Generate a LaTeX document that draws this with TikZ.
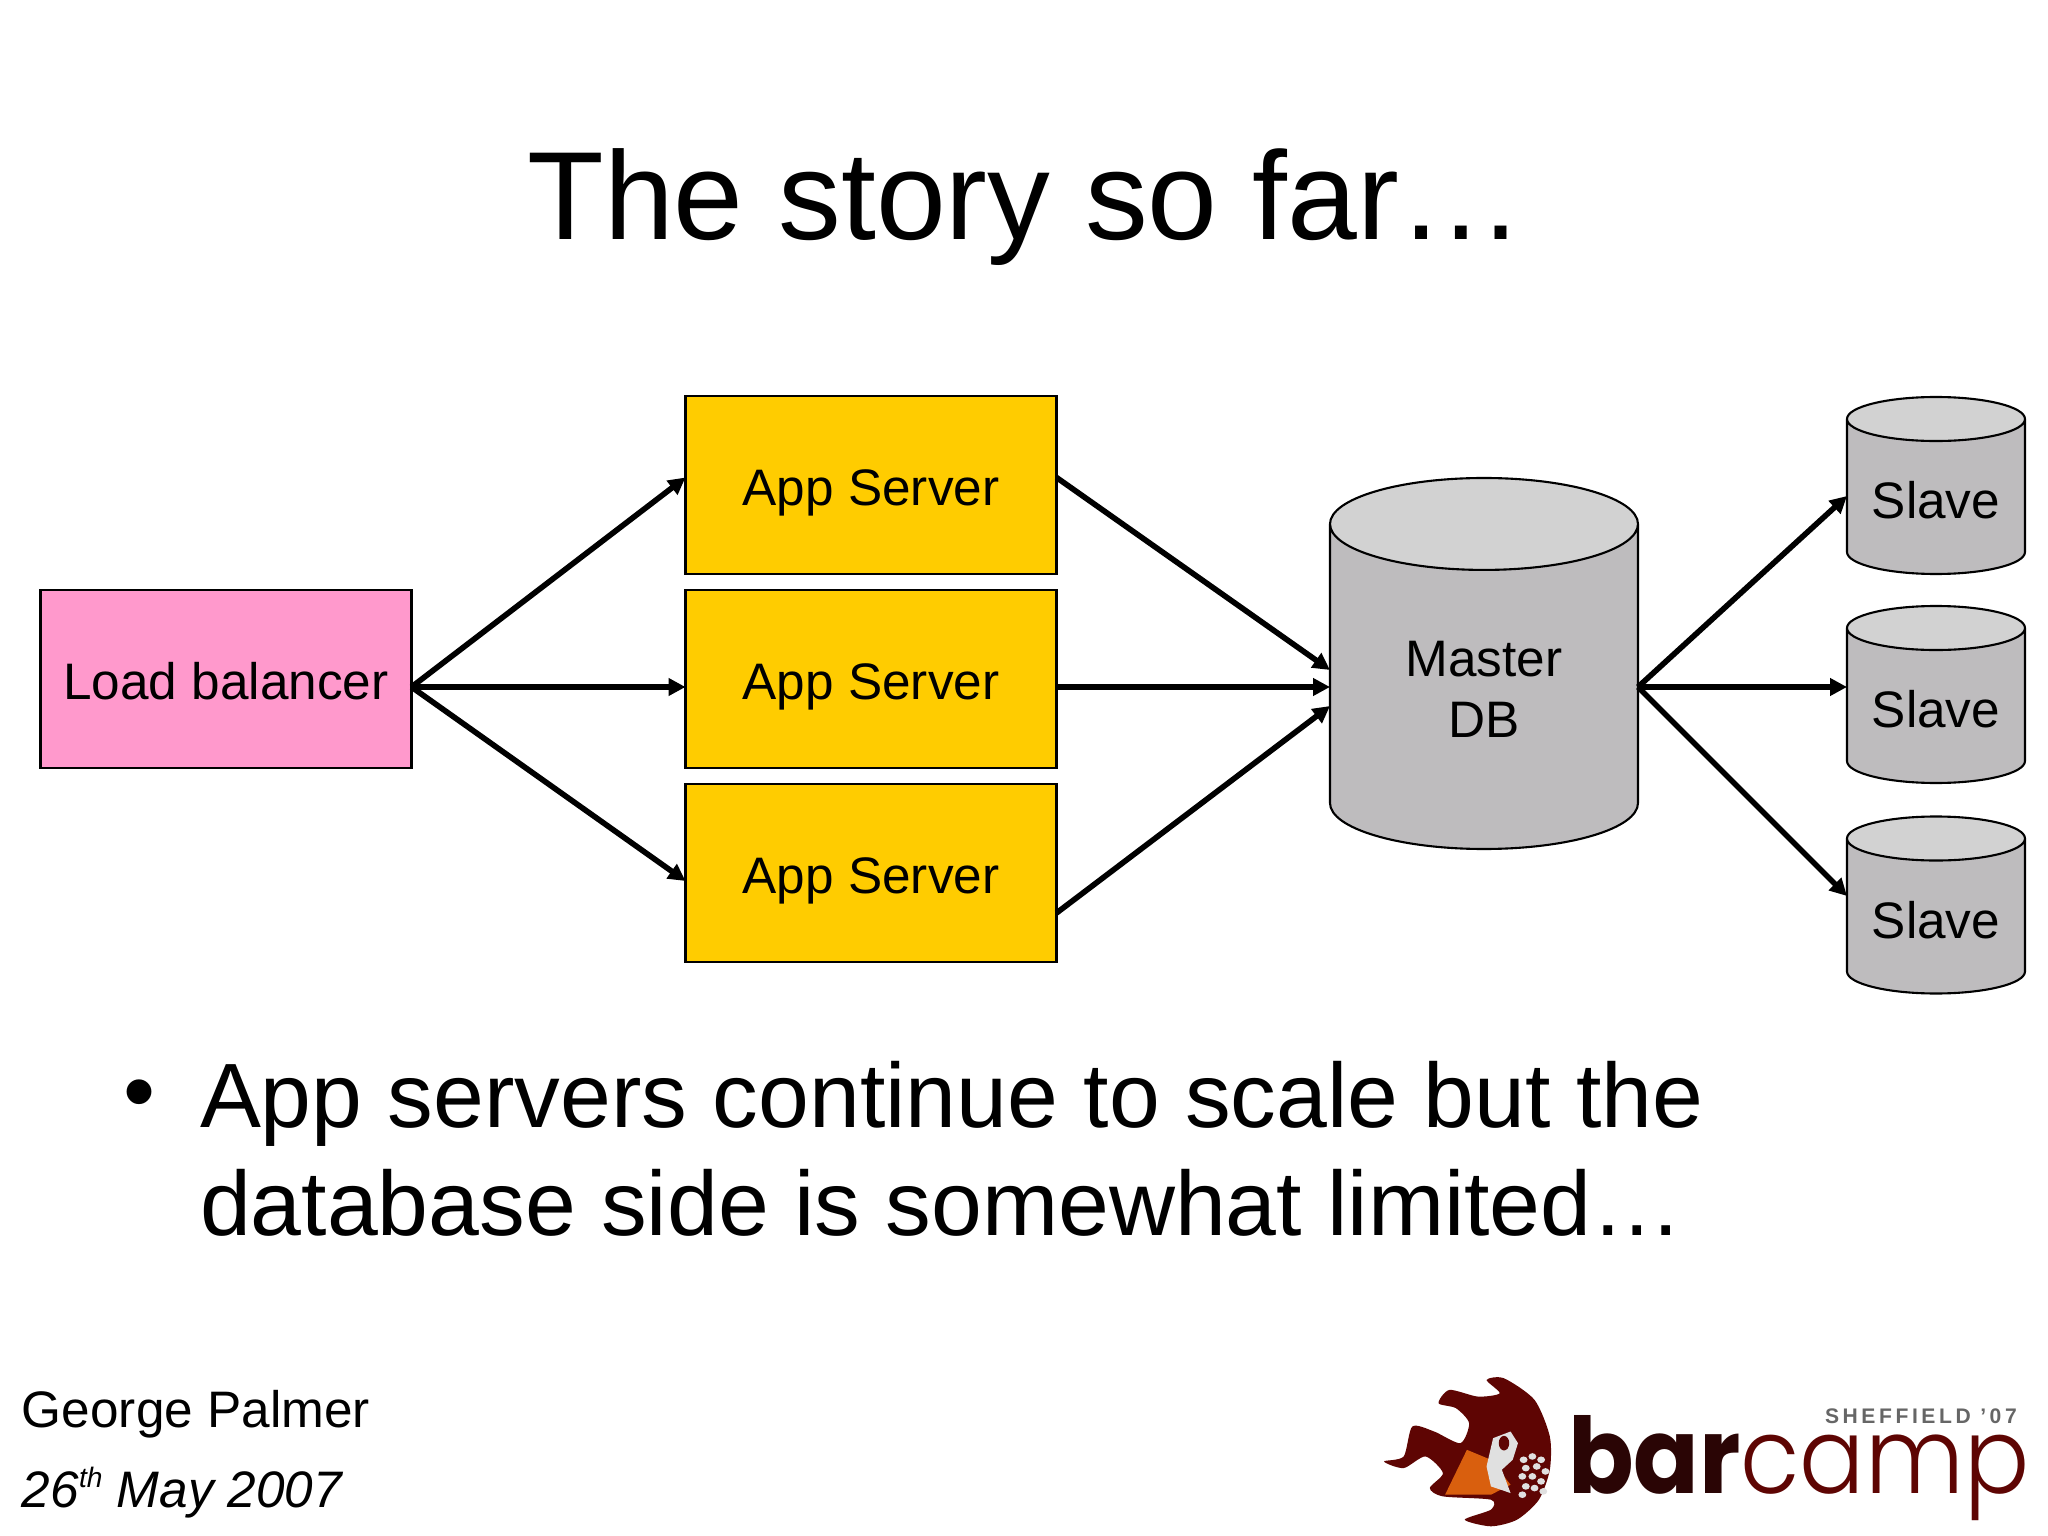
\documentclass[tikz,border=0pt]{standalone}
\usepackage{fontspec}
\setmainfont{Liberation Sans}
\newfontfamily\logofont{Poppins}[UprightFont=* Light,BoldFont=* Bold]
\usetikzlibrary{positioning,arrows.meta,shapes.geometric}

\definecolor{pinkbox}{HTML}{FF99CC}
\definecolor{yellowbox}{HTML}{FFCC00}
\definecolor{dbbody}{HTML}{BEBCBE}
\definecolor{dbtop}{HTML}{D2D2D2}
\definecolor{logored}{HTML}{5E0503}
\definecolor{logodark}{HTML}{2A0505}
\definecolor{logoorange}{HTML}{D95F0E}

\begin{document}
\begin{tikzpicture}[
        node distance=1.6mm,
        every node/.style={font=\fontsize{14.6}{17.4}\selectfont, outer sep=0pt},
        box/.style={
            rectangle,
            draw=black,
            line width=0.6pt,
            minimum width=3.71cm,
            minimum height=1.78cm,
            text height=0.42cm,
            text depth=0pt,
            align=center,
        },
        lbbox/.style={
            fill=pinkbox,
        },
        appbox/.style={
            fill=yellowbox,
        },
        db/.style={
            cylinder,
            shape border rotate=90,
            anchor=shape center,
            draw=black,
            line width=0.6pt,
            cylinder uses custom fill,
            cylinder body fill=dbbody,
            cylinder end fill=dbtop,
            align=center,
        },
        master/.style={
            minimum width=3.08cm,
            minimum height=3.71cm,
            aspect=0.51,
            text depth=0.13cm,
        },
        slave/.style={
            minimum width=1.78cm,
            minimum height=1.77cm,
            aspect=0.29,
            text depth=0.05cm,
        },
        link/.style={
            line width=1.6pt,
            -{Triangle[length=1.7mm,width=1.7mm]},
        },
    ]
        \useasboundingbox (0,0) rectangle (20.48,-15.36);

        \node [font=\fontsize{35.7}{42}\selectfont, anchor=base] (title) at (10.26,-2.40) {The story so far\dots};

        \node [box, appbox] (app2) at (8.71,-6.79) {App Server};
        \node [box, appbox, above=of app2] (app1) {App Server};
        \node [box, appbox, below=of app2] (app3) {App Server};
        \node [box, lbbox, left=2.74cm of app2] (lb) {Load balancer};

        \node [db, master] (mdb) at (14.84,-6.635) {Master\\DB};

        \node [db, slave] (slave1) at (19.36,-4.855) {Slave};
        \node [db, slave] (slave2) at (19.36,-6.945) {Slave};
        \node [db, slave] (slave3) at (19.36,-9.05) {Slave};

        \draw [link] ([yshift=-0.08cm]lb.east) -- ([yshift=0.075cm]app1.west);
        \draw [link] ([yshift=-0.08cm]lb.east) -- ([yshift=-0.08cm]app2.west);
        \draw [link] ([yshift=-0.08cm]lb.east) -- ([yshift=-0.08cm]app3.west);

        \draw [link] ([yshift=0.075cm]app1.east) -- ([xshift=-1.54cm,yshift=-0.065cm]mdb.shape center);
        \draw [link] ([yshift=-0.08cm]app2.east) -- ([xshift=-1.54cm,yshift=-0.235cm]mdb.shape center);
        \draw [link] ([yshift=-0.4cm]app3.east) -- ([xshift=-1.54cm,yshift=-0.425cm]mdb.shape center);

        \draw [link] ([xshift=1.54cm,yshift=-0.235cm]mdb.shape center) -- ([xshift=-0.89cm,yshift=-0.105cm]slave1.shape center);
        \draw [link] ([xshift=1.54cm,yshift=-0.235cm]mdb.shape center) -- ([xshift=-0.89cm,yshift=0.075cm]slave2.shape center);
        \draw [link] ([xshift=1.54cm,yshift=-0.235cm]mdb.shape center) -- ([xshift=-0.89cm,yshift=0.09cm]slave3.shape center);

        \node [font=\fontsize{26}{31}\selectfont, anchor=base] (bullet) at (1.39,-11.22) {•};
        \node [font=\fontsize{26}{31}\selectfont, anchor=base west, inner sep=0pt] (point1) at (2.0,-11.27) {App servers continue to scale but the};
        \node [font=\fontsize{26}{31}\selectfont, anchor=base west, inner sep=0pt] (point2) at (2.0,-12.35) {database side is somewhat limited\dots};

        \node [anchor=base west, inner sep=0pt] (speaker) at (0.22,-14.27) {George Palmer};
        \node [anchor=base west, inner sep=0pt] (date) at (0.22,-15.07) {\itshape 26\raisebox{0.38em}{\fontsize{8}{8}\selectfont th} May 2007};

        % logo
        \node [font=\fontsize{30}{30}\logofont\bfseries, text=logodark, transform shape, xscale=0.917, anchor=base west, inner sep=0pt] (logobar) at (15.68,-14.93) {bar};
        \node [font=\fontsize{30}{30}\logofont, text=logored, transform shape, xscale=0.917, inner sep=0pt, anchor=base west] (logocamp) at (logobar.base east) {camp};
        \node [font=\fontsize{6}{6}\bfseries\addfontfeature{LetterSpace=17}, text=black!60, anchor=base west, inner sep=0pt] (logotag) at (18.25,-14.23) {SHEFFIELD '07};
        \begin{scope}[shift={(13.6,-13.6)},x=0.00437cm,y=-0.00333cm]
            \fill [logored] plot [smooth cycle, tension=0.45] coordinates {(290,60) (330,55) (400,120) (435,230) (435,330) (410,420) (360,480) (300,500) (240,480) (300,450) (300,420) (190,410) (160,385) (190,340) (150,290) (100,325) (55,305) (100,290) (120,200) (170,215) (230,250) (250,190) (220,145) (180,130) (205,90) (270,110) (320,100)};
            \fill [logoorange] (245,270) -- (195,405) -- (300,405) -- (345,375) -- (300,300) -- cycle;
            \fill [black!12] (305,235) -- (345,215) -- (362,250) -- (350,300) -- (325,330) -- (345,400) -- (300,380) -- (290,320) -- cycle;
            \fill [logored] (330,250) ellipse (12 and 22);
            \foreach \px/\py in {375/300,395/290,415/300,380/325,405/320,425/335,372/350,395/350,415/365,380/380,400/385,372/405,420/395}
                \fill [black!12] (\px,\py) ellipse (9 and 10);
        \end{scope}
    \end{tikzpicture}
\end{document}
